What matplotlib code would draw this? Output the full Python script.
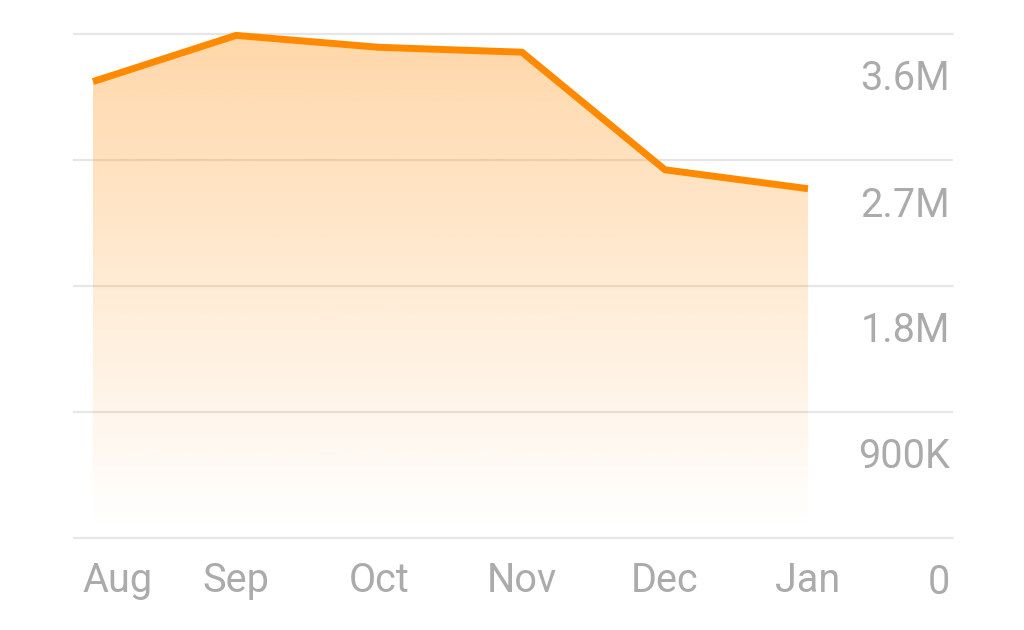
import numpy as np
import matplotlib
matplotlib.use("Agg")
import matplotlib.pyplot as plt
from matplotlib.transforms import ScaledTranslation
from matplotlib.patches import Polygon

months = ["Aug", "Sep", "Oct", "Nov", "Dec", "Jan"]
values = [3260000, 3590000, 3505000, 3470000, 2630000, 2495000]
y_ticks = [0, 900000, 1800000, 2700000, 3600000]
y_tick_labels = ["0", "900K", "1.8M", "2.7M", "3.6M"]

LINE = "#FF8A00"
GRID = "#E6E6E6"
TEXT = "#ABABAB"
FONT = ["Roboto", "DejaVu Sans"]
FS = 28.5

fig = plt.figure(figsize=(10.24, 6.30), dpi=100)
ax = fig.add_axes([74 / 1024, 92 / 630, (952 - 74) / 1024, (538 - 34) / 630])
x = np.arange(len(months))
ax.set_xlim(-19 / 143, 5 + 144 / 143)
ax.set_ylim(0, 3600000)

# horizontal grid lines
for t in y_ticks:
    ax.axhline(t, color=GRID, lw=1.6, zorder=1, clip_on=False)

# gradient area under the line
verts = [(x[0], 0)] + list(zip(x, values)) + [(x[-1], 0)]
poly = Polygon(verts, closed=True, facecolor="none", edgecolor="none")
ax.add_patch(poly)
grad = np.zeros((256, 1, 4))
rgb = matplotlib.colors.to_rgb(LINE)
grad[..., 0], grad[..., 1], grad[..., 2] = rgb
grad[:, 0, 3] = np.linspace(0.0, 0.34, 256)
img = ax.imshow(grad, aspect="auto", origin="lower",
                extent=[x[0], x[-1], 60000, 3600000], zorder=2)
img.set_clip_path(poly)

ax.plot(x, values, color=LINE, lw=5.0, solid_joinstyle="miter",
        solid_capstyle="butt", zorder=3, clip_on=False)

for s in ax.spines.values():
    s.set_visible(False)
ax.set_xticks([])
ax.set_yticks([])

down = ScaledTranslation(0, -42 / 100, fig.dpi_scale_trans)
# month labels
for i, m in enumerate(months):
    if i == 0:
        off = ScaledTranslation(-11 / 100, 0, fig.dpi_scale_trans)
        ax.text(i, 0, m, ha="left", va="center", fontsize=FS, color=TEXT,
                family=FONT, transform=ax.transData + off + down)
    else:
        ax.text(i, 0, m, ha="center", va="center", fontsize=FS, color=TEXT,
                family=FONT, transform=ax.transData + down)

# value labels sitting under each grid line at the right edge
for t, lab in zip(y_ticks, y_tick_labels):
    ax.text(1.0, t, lab, ha="right", va="center", fontsize=FS, color=TEXT,
            family=FONT, transform=ax.get_yaxis_transform() +
            ScaledTranslation(-2 / 100, -45 / 100, fig.dpi_scale_trans))

fig.savefig("out.png", dpi=100, facecolor="white")
